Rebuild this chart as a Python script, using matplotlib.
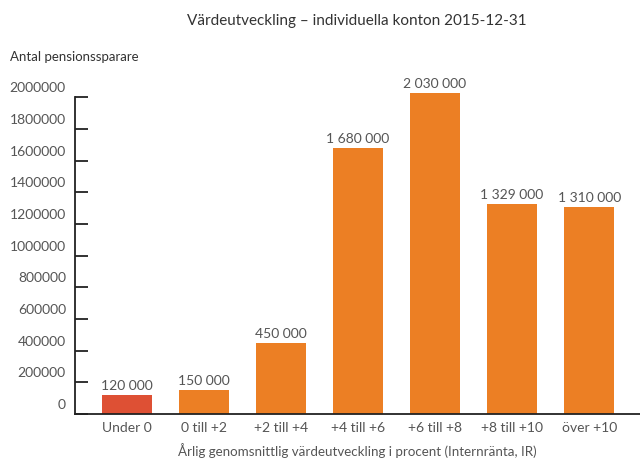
import numpy as np
import matplotlib
matplotlib.use("Agg")
import matplotlib.pyplot as plt

# data
categories = ["Under 0", "0 till +2", "+2 till +4", "+4 till +6", "+6 till +8", "+8 till +10", "över +10"]
values = [120000, 150000, 450000, 1680000, 2030000, 1329000, 1310000]
bar_colors = ["#DE5034", "#EC7F24", "#EC7F24", "#EC7F24", "#EC7F24", "#EC7F24", "#EC7F24"]
yticks = [0, 200000, 400000, 600000, 800000, 1000000, 1200000, 1400000, 1600000, 1800000, 2000000]

plt.rcParams["font.family"] = ["Lato", "DejaVu Sans"]
text_col = "#555555"

fig = plt.figure(figsize=(6.4, 4.61), dpi=100)
ax = fig.add_axes([0.117, 0.102, 0.883, 0.721])

x = np.arange(len(categories))
ax.bar(x, values, width=0.65, color=bar_colors, zorder=2, clip_on=False)

# value labels with space as thousands separator
for xi, v in zip(x, values):
    ax.annotate(f"{v:,}".replace(",", " "), xy=(xi, v), xytext=(0, 3),
                textcoords="offset pixels", ha="center", va="bottom",
                fontsize=10, color=text_col)

ax.set_xlim(-0.675, 6.66)
ax.set_ylim(0, 2100000)

for side in ["top", "right"]:
    ax.spines[side].set_visible(False)
ax.spines["left"].set_bounds(0, 2000000)
for side in ["left", "bottom"]:
    ax.spines[side].set_linewidth(1.3)
    ax.spines[side].set_color("#222222")

ax.set_yticks(yticks)
ax.tick_params(axis="y", direction="in", length=9, width=1.3, color="#222222", labelleft=False)
# y labels sit a little above their tick marks
for t in yticks:
    ax.annotate(str(t), xy=(0, t), xycoords=("axes fraction", "data"),
                xytext=(-9, 9), textcoords="offset pixels", ha="right", va="center",
                fontsize=10, color=text_col)

ax.set_xticks(x)
ax.set_xticklabels(categories, fontsize=10, color=text_col)
ax.tick_params(axis="x", length=0, pad=6)

ax.set_xlabel("Årlig genomsnittlig värdeutveckling i procent (Internränta, IR)",
              fontsize=9.6, color=text_col, labelpad=6)

fig.text(0.558, 0.955, "Värdeutveckling – individuella konton 2015-12-31",
         ha="center", va="center", fontsize=11, color="#333333")
fig.text(0.016, 0.876, "Antal pensionssparare", ha="left", va="center",
         fontsize=9.5, color="#333333")

fig.savefig("out.png", dpi=100)
